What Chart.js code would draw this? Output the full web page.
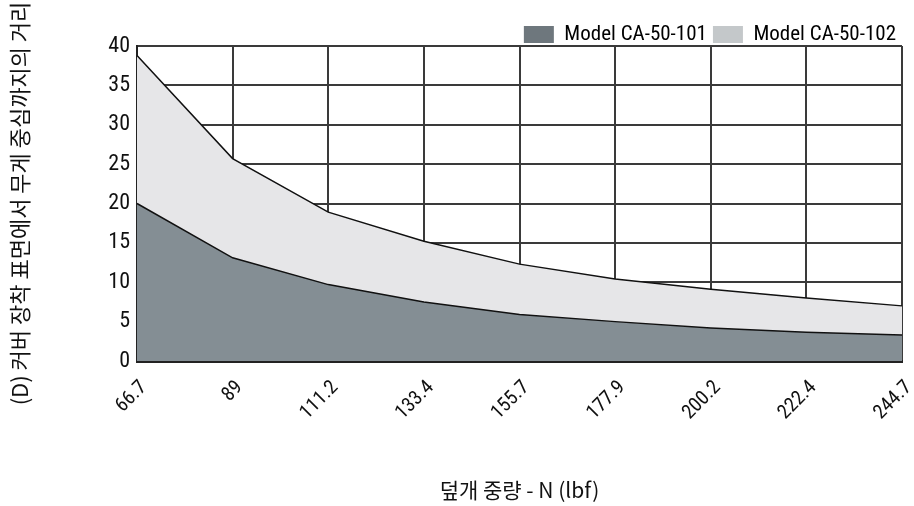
<!DOCTYPE html>
<html>
<head>
<meta charset="utf-8">
<script src="https://cdn.jsdelivr.net/npm/chart.js@4/dist/chart.umd.min.js"></script>
<style>
  html, body { margin: 0; padding: 0; background: #fff; }
  #wrap { width: 914px; height: 506px; }
</style>
</head>
<body>
<div id="wrap"><canvas id="distChart"></canvas></div>
<script>
const loads = ["66.7", "89", "111.2", "133.4", "155.7", "177.9", "200.2", "222.4", "244.7"];
const model101 = [20, 13.1, 9.7, 7.5, 5.9, 5.0, 4.2, 3.65, 3.3];
const model102 = [38.8, 25.7, 18.9, 15.2, 12.3, 10.4, 9.1, 8.0, 7.0];
const seriesNames = ["Model CA-50-101", "Model CA-50-102"];
const yTitle = "(D) 커버 장착 표면에서 무게 중심까지의 거리";
const xTitle = "덮개 중량 - N (lbf)";

const narrow = "'Roboto Condensed', 'Noto Sans CJK KR', sans-serif";
const kr = "'Noto Sans CJK KR', sans-serif";
const gridColor = "#3a3a3a";

// keep the legend box a fixed height so the plot starts where the reference does
const legendFit = {
  id: "legendFit",
  beforeLayout(chart) {
    const lg = chart.legend;
    if (lg && !lg._fixed) {
      const fit = lg.fit;
      lg.fit = function () {
        fit.call(this);
        this.height = 28;
      };
      lg._fixed = true;
    }
  },
};

const ctx = document.getElementById("distChart").getContext("2d");
const distChart = new Chart(ctx, {
  type: "line",
  data: {
    labels: loads,
    datasets: [
      {
        label: seriesNames[0],
        data: model101,
        borderColor: "#111",
        borderWidth: 1.5,
        backgroundColor: "#848e94",
        fill: "origin",
        tension: 0,
        pointRadius: 0,
        order: 1,
      },
      {
        label: seriesNames[1],
        data: model102,
        borderColor: "#111",
        borderWidth: 1.5,
        backgroundColor: "#e6e6e8",
        fill: "origin",
        tension: 0,
        pointRadius: 0,
        order: 2,
      },
    ],
  },
  plugins: [legendFit],
  options: {
    responsive: true,
    maintainAspectRatio: false,
    animation: false,
    layout: { padding: { top: 18, right: 12, bottom: 0, left: 0 } },
    plugins: {
      tooltip: { enabled: false },
      legend: {
        position: "top",
        align: "end",
        labels: {
          color: "#111",
          font: { family: narrow, size: 21 },
          boxWidth: 30,
          boxHeight: 17,
          padding: 6,
          generateLabels: () => [
            { text: seriesNames[0], fillStyle: "#6e777d", strokeStyle: "#6e777d", lineWidth: 0, datasetIndex: 0 },
            { text: seriesNames[1], fillStyle: "#c4c8ca", strokeStyle: "#c4c8ca", lineWidth: 0, datasetIndex: 1 },
          ],
        },
      },
    },
    scales: {
      x: {
        offset: false,
        grid: { color: gridColor, lineWidth: 2, drawTicks: false },
        border: { color: "#222", width: 3 },
        ticks: {
          color: "#111",
          font: { family: narrow, size: 20 },
          maxRotation: 45,
          minRotation: 45,
          padding: 15,
          labelOffset: 7,
        },
        title: {
          display: true,
          text: xTitle,
          color: "#111",
          font: { family: kr, size: 21 },
          padding: { top: 20, bottom: 3 },
        },
        afterFit: (s) => {
          s.height = 145;
          s.paddingLeft = 0;
          s.paddingRight = 0;
        },
      },
      y: {
        min: 0,
        max: 40,
        grid: { color: gridColor, lineWidth: 2, drawTicks: false },
        border: { color: "#222", width: 2 },
        ticks: {
          stepSize: 5,
          color: "#111",
          font: { family: narrow, size: 22 },
          padding: 7,
        },
        title: {
          display: true,
          text: yTitle,
          color: "#111",
          font: { family: kr, size: 22 },
          padding: { top: 6, bottom: 4 },
        },
        afterFit: (s) => {
          s.width = 137;
          s.paddingTop = 0;
          s.paddingBottom = 0;
        },
      },
    },
  },
});
</script>
</body>
</html>
